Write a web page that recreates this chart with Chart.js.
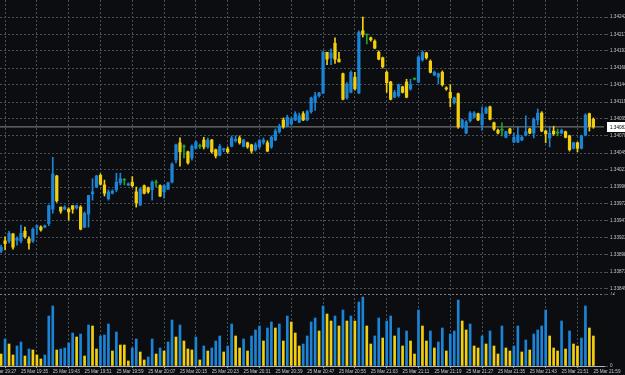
<!DOCTYPE html>
<html>
<head>
<meta charset="utf-8">
<script src="https://cdn.jsdelivr.net/npm/chart.js@4.4.1/dist/chart.umd.min.js"></script>
<style>
html,body{margin:0;padding:0;background:#0b0d10;overflow:hidden;}
body{width:625px;height:375px;position:relative;}
canvas{position:absolute;left:0;display:block;}
#cp{top:0;}
#cv{top:292px;}
</style>
</head>
<body>
<canvas id="cp" width="625" height="292"></canvas>
<canvas id="cv" width="625" height="83"></canvas>
<script>
// ---------- DATA ----------
const times = [
"19:30","19:31","19:32","19:33","19:34","19:35","19:36","19:37","19:38","19:39",
"19:40","19:41","19:42","19:43","19:44","19:45","19:46","19:47","19:48","19:49",
"19:50","19:51","19:52","19:53","19:54","19:55","19:56","19:57","19:58","19:59",
"20:00","20:01","20:02","20:03","20:04","20:05","20:06","20:07","20:08","20:09",
"20:10","20:11","20:12","20:13","20:14","20:15","20:16","20:17","20:18","20:19",
"20:20","20:21","20:22","20:23","20:24","20:25","20:26","20:27","20:28","20:29",
"20:30","20:31","20:32","20:33","20:34","20:35","20:36","20:37","20:38","20:39",
"20:40","20:41","20:42","20:43","20:44","20:45","20:46","20:47","20:48","20:49",
"20:50","20:51","20:52","20:53","20:54","20:55","20:56","20:57","20:58","20:59",
"21:00","21:01","21:02","21:03","21:04","21:05","21:06","21:07","21:08","21:09",
"21:10","21:11","21:12","21:13","21:14","21:15","21:16","21:17","21:18","21:19",
"21:20","21:21","21:22","21:23","21:24","21:25","21:26","21:27","21:28","21:29",
"21:30","21:31","21:32","21:33","21:34","21:35","21:36","21:37","21:38","21:39",
"21:40","21:41","21:42","21:43","21:44","21:45","21:46","21:47","21:48","21:49",
"21:50","21:51","21:52","21:53","21:54","21:55","21:56","21:57","21:58","21:59"];

const openP = [
1.33903,1.33918,1.33918,1.33928,1.33919,1.33918,1.33932,1.33921,1.33918,1.33938,
1.33938,1.33938,1.33943,1.33964,1.34012,1.33967,1.33964,1.33964,1.33969,1.33966,
1.33967,1.33938,1.33957,1.33986,1.33996,1.34013,1.33999,1.33979,1.33987,1.33992,
1.34002,1.34006,1.33999,1.34003,1.33989,1.33970,1.33998,1.33995,1.33992,1.34002,
1.33998,1.33989,1.33993,1.34003,1.34035,1.34060,1.34054,1.34047,1.34038,1.34052,
1.34055,1.34064,1.34054,1.34064,1.34050,1.34042,1.34050,1.34051,1.34055,1.34063,
1.34067,1.34055,1.34060,1.34057,1.34050,1.34054,1.34061,1.34060,1.34054,1.34064,
1.34076,1.34093,1.34084,1.34087,1.34093,1.34090,1.34102,1.34093,1.34105,1.34119,
1.34128,1.34132,1.34191,1.34183,1.34204,1.34181,1.34160,1.34125,1.34133,1.34155,
1.34132,1.34222,1.34216,1.34212,1.34207,1.34191,1.34183,1.34162,1.34148,1.34126,
1.34128,1.34141,1.34148,1.34138,1.34152,1.34148,1.34180,1.34190,1.34178,1.34158,
1.34155,1.34162,1.34139,1.34133,1.34118,1.34131,1.34083,1.34074,1.34092,1.34097,
1.34102,1.34086,1.34103,1.34112,1.34089,1.34078,1.34078,1.34068,1.34080,1.34061,
1.34061,1.34064,1.34071,1.34080,1.34074,1.34093,1.34103,1.34077,1.34067,1.34077,
1.34074,1.34074,1.34076,1.34070,1.34052,1.34060,1.34052,1.34071,1.34102,1.34094];

const highP = [
1.33912,1.33924,1.33932,1.33929,1.33924,1.33941,1.33938,1.33924,1.33937,1.33941,
1.33940,1.33941,1.33970,1.34039,1.34013,1.33967,1.33969,1.33966,1.33969,1.33970,
1.33969,1.33960,1.33984,1.34008,1.34013,1.34015,1.34006,1.33992,1.33992,1.34016,
1.34016,1.34008,1.34002,1.34011,1.33996,1.33995,1.33999,1.33996,1.34005,1.34006,
1.33999,1.33999,1.34003,1.34031,1.34058,1.34067,1.34057,1.34048,1.34057,1.34063,
1.34058,1.34068,1.34067,1.34065,1.34051,1.34058,1.34052,1.34054,1.34070,1.34070,
1.34070,1.34065,1.34061,1.34058,1.34060,1.34065,1.34067,1.34063,1.34070,1.34080,
1.34087,1.34096,1.34100,1.34097,1.34105,1.34103,1.34105,1.34107,1.34126,1.34133,
1.34133,1.34193,1.34191,1.34196,1.34212,1.34191,1.34161,1.34147,1.34164,1.34162,
1.34222,1.34242,1.34216,1.34213,1.34209,1.34193,1.34184,1.34164,1.34149,1.34136,
1.34145,1.34142,1.34152,1.34152,1.34154,1.34186,1.34193,1.34191,1.34180,1.34164,
1.34161,1.34164,1.34141,1.34144,1.34126,1.34132,1.34094,1.34092,1.34105,1.34105,
1.34103,1.34112,1.34112,1.34113,1.34090,1.34080,1.34089,1.34077,1.34081,1.34074,
1.34083,1.34070,1.34099,1.34081,1.34096,1.34109,1.34105,1.34078,1.34084,1.34084,
1.34080,1.34080,1.34077,1.34071,1.34061,1.34061,1.34071,1.34102,1.34103,1.34096];

const lowP = [
1.33901,1.33905,1.33915,1.33906,1.33912,1.33915,1.33922,1.33906,1.33916,1.33927,
1.33932,1.33937,1.33940,1.33958,1.33974,1.33958,1.33963,1.33948,1.33958,1.33964,
1.33934,1.33937,1.33938,1.33977,1.33995,1.33999,1.33983,1.33977,1.33986,1.33989,
1.33999,1.33999,1.33998,1.33996,1.33967,1.33969,1.33986,1.33987,1.33977,1.33996,
1.33982,1.33980,1.33992,1.34002,1.34031,1.34026,1.34038,1.34029,1.34035,1.34051,
1.34052,1.34051,1.34052,1.34045,1.34038,1.34041,1.34047,1.34045,1.34054,1.34061,
1.34058,1.34054,1.34052,1.34045,1.34048,1.34052,1.34058,1.34047,1.34052,1.34063,
1.34074,1.34081,1.34083,1.34086,1.34092,1.34089,1.34092,1.34092,1.34103,1.34107,
1.34126,1.34131,1.34173,1.34173,1.34175,1.34177,1.34122,1.34123,1.34132,1.34136,
1.34131,1.34213,1.34203,1.34207,1.34196,1.34180,1.34168,1.34133,1.34122,1.34125,
1.34126,1.34132,1.34125,1.34136,1.34151,1.34147,1.34178,1.34181,1.34161,1.34157,
1.34145,1.34142,1.34136,1.34112,1.34116,1.34081,1.34081,1.34073,1.34090,1.34096,
1.34092,1.34078,1.34102,1.34093,1.34078,1.34073,1.34070,1.34067,1.34073,1.34060,
1.34060,1.34063,1.34070,1.34073,1.34067,1.34086,1.34076,1.34060,1.34054,1.34071,
1.34070,1.34073,1.34067,1.34048,1.34051,1.34047,1.34051,1.34070,1.34077,1.34081];

const closeP = [
1.33909,1.33914,1.33929,1.33909,1.33922,1.33929,1.33924,1.33915,1.33935,1.33940,
1.33934,1.33940,1.33969,1.34015,1.33976,1.33961,1.33967,1.33960,1.33964,1.33969,
1.33935,1.33958,1.33984,1.33989,1.34012,1.34000,1.33987,1.33989,1.33990,1.34003,
1.34008,1.34006,1.34000,1.33998,1.33973,1.33993,1.33987,1.33989,1.34003,1.34002,
1.33983,1.33998,1.34002,1.34029,1.34057,1.34047,1.34054,1.34031,1.34055,1.34061,
1.34055,1.34054,1.34064,1.34047,1.34041,1.34055,1.34051,1.34047,1.34067,1.34065,
1.34060,1.34064,1.34054,1.34048,1.34057,1.34063,1.34064,1.34048,1.34068,1.34077,
1.34084,1.34083,1.34097,1.34094,1.34102,1.34099,1.34093,1.34105,1.34125,1.34128,
1.34132,1.34191,1.34181,1.34190,1.34181,1.34177,1.34123,1.34145,1.34162,1.34138,
1.34220,1.34217,1.34216,1.34209,1.34197,1.34181,1.34170,1.34147,1.34123,1.34133,
1.34144,1.34133,1.34126,1.34144,1.34152,1.34184,1.34191,1.34183,1.34162,1.34162,
1.34160,1.34144,1.34138,1.34125,1.34125,1.34083,1.34093,1.34090,1.34103,1.34103,
1.34093,1.34102,1.34110,1.34094,1.34080,1.34074,1.34078,1.34076,1.34074,1.34068,
1.34071,1.34068,1.34076,1.34074,1.34094,1.34103,1.34077,1.34073,1.34074,1.34073,
1.34074,1.34078,1.34068,1.34050,1.34060,1.34052,1.34070,1.34100,1.34084,1.34083];

const volumes = [
12,27,22,11,20,24,10,17,16,11,
7,11,50,60,16,17,18,23,33,29,
32,10,41,40,17,30,31,42,15,34,
21,21,5,18,27,14,6,9,27,12,
18,15,24,46,29,41,25,17,16,29,
6,20,15,18,25,30,14,20,42,30,
18,27,15,30,36,40,25,38,44,38,
42,25,50,44,33,20,22,30,44,48,
35,60,52,45,50,40,56,45,50,45,
64,69,40,22,30,48,28,45,50,30,
38,20,35,25,12,56,40,25,35,18,
24,38,15,32,35,66,45,36,42,20,
18,30,22,35,20,12,40,18,15,20,
40,14,26,16,32,36,40,56,30,18,
15,45,17,35,22,20,28,60,38,30];

const priceTicks = ["1.34242","1.34217","1.34193","1.34168","1.34144","1.34119","1.34095","1.34070",
"1.34045","1.34021","1.33996","1.33972","1.33947","1.33923","1.33898","1.33873","1.33849"];
const timeTicks = ["25 Mar 19:27","25 Mar 19:35","25 Mar 19:43","25 Mar 19:51","25 Mar 19:59",
"25 Mar 20:07","25 Mar 20:15","25 Mar 20:23","25 Mar 20:31","25 Mar 20:39","25 Mar 20:47",
"25 Mar 20:55","25 Mar 21:03","25 Mar 21:11","25 Mar 21:19","25 Mar 21:27","25 Mar 21:35",
"25 Mar 21:43","25 Mar 21:51","25 Mar 21:59"];
const volTicks = [72, 0];

// ---------- STYLE / LAYOUT ----------
const UP = '#1b84d6', DN = '#f4cf10', DOJI = '#22a22a';
const GRID = '#4a5058', TXT = '#c3c7cc';
const FONT = {family: 'Liberation Sans, Arial, sans-serif', size: 4.6};
const PX_PER_BAR = 3.975, X0 = 1.1, AREA_R = 604;
const xMin = -X0 / PX_PER_BAR, xMax = xMin + AREA_R / PX_PER_BAR;
const yMax = 1.342666, yMin = 1.33847;

const toMin = s => { const p = s.split(':'); return (+p[0]) * 60 + (+p[1]); };
const baseMin = toMin(times[0]);
const xTickIdx = timeTicks.map(s => toMin(s.split(' ')[2]) - baseMin);
const idx = times.map((t, i) => i);
const candleColors = idx.map(i => closeP[i] > openP[i] ? UP : (closeP[i] < openP[i] ? DN : DOJI));
const volColors = idx.map(i => (i > 0 && volumes[i] > volumes[i - 1]) ? UP : DN);
const lastClose = closeP[closeP.length - 1];

const priceBox = {
  id: 'priceBox',
  afterDraw(chart) {
    const ctx = chart.ctx, y = Math.round(chart.scales.y.getPixelForValue(lastClose));
    const x = chart.chartArea.right + 3;
    ctx.save();
    ctx.fillStyle = '#ffffff';
    ctx.fillRect(x, y - 5, 625 - x, 10);
    ctx.fillStyle = '#000000';
    ctx.font = '4.6px Liberation Sans, Arial, sans-serif';
    ctx.textBaseline = 'middle';
    ctx.fillText(lastClose.toFixed(5), x + 3, y + 0.5);
    ctx.restore();
  }
};

const xScaleBase = () => ({
  type: 'linear', min: xMin, max: xMax, offset: false,
  afterBuildTicks: s => { s.ticks = xTickIdx.map(v => ({value: v})); }
});

new Chart(document.getElementById('cp'), {
  type: 'bar',
  data: {
    datasets: [
      {type: 'line', data: [{x: xMin, y: lastClose}, {x: xMax, y: lastClose}],
       borderColor: '#8c8c8c', borderWidth: 1, pointRadius: 0, order: 3},
      {data: idx.map(i => ({x: i, y: [lowP[i], highP[i]]})), backgroundColor: candleColors,
       barThickness: 1, grouped: false, order: 2},
      {data: idx.map(i => ({x: i, y: [openP[i], closeP[i]]})), backgroundColor: candleColors,
       barThickness: 2.6, minBarLength: 1, grouped: false, order: 1}
    ]
  },
  options: {
    responsive: false, animation: false, devicePixelRatio: 1,
    layout: {padding: 0},
    plugins: {legend: {display: false}, tooltip: {enabled: false}},
    scales: {
      x: Object.assign(xScaleBase(), {
        position: 'bottom',
        ticks: {display: false},
        grid: {color: GRID, drawTicks: false, lineWidth: 1},
        border: {display: false, dash: [2, 2]},
        afterFit: s => { s.height = 2; s.paddingLeft = 0; s.paddingRight = 0; }
      }),
      y: {
        type: 'linear', position: 'right', min: yMin, max: yMax,
        afterBuildTicks: s => { s.ticks = priceTicks.map(v => ({value: parseFloat(v)})); },
        ticks: {callback: (v, i) => priceTicks[i], color: TXT, font: FONT, padding: 2, autoSkip: false},
        grid: {color: GRID, tickLength: 4, tickColor: GRID},
        border: {display: false, dash: [2, 2]},
        afterFit: s => { s.width = 21; s.paddingTop = 0; s.paddingBottom = 0; }
      }
    }
  },
  plugins: [priceBox]
});

new Chart(document.getElementById('cv'), {
  type: 'bar',
  data: {
    datasets: [
      {data: idx.map(i => ({x: i, y: volumes[i]})), backgroundColor: volColors,
       barThickness: 2, grouped: false}
    ]
  },
  options: {
    responsive: false, animation: false, devicePixelRatio: 1,
    layout: {padding: {top: 2}},
    plugins: {legend: {display: false}, tooltip: {enabled: false}},
    scales: {
      x: Object.assign(xScaleBase(), {
        position: 'bottom',
        ticks: {callback: (v, i) => timeTicks[i], color: TXT, font: FONT, align: 'start',
                maxRotation: 0, minRotation: 0, autoSkip: false, padding: 1},
        grid: {color: GRID, tickLength: 2, tickColor: '#9a9a9a', lineWidth: 1},
        border: {display: true, color: '#b4b4b4', width: 1, dash: [2, 2]},
        afterFit: s => { s.height = 9; s.paddingLeft = 0; s.paddingRight = 0; }
      }),
      y: {
        type: 'linear', position: 'right', min: 0, max: volTicks[0],
        afterBuildTicks: s => { s.ticks = volTicks.map(v => ({value: v})); },
        ticks: {callback: v => String(v), color: TXT, font: FONT, padding: 2, autoSkip: false},
        grid: {color: c => (c.tick && c.tick.value > 0) ? '#7a7f85' : 'rgba(0,0,0,0)', tickLength: 4, tickColor: GRID},
        border: {display: false, dash: [2, 2]},
        afterFit: s => { s.width = 21; s.paddingTop = 0; s.paddingBottom = 0; }
      }
    }
  }
});
</script>
</body>
</html>
